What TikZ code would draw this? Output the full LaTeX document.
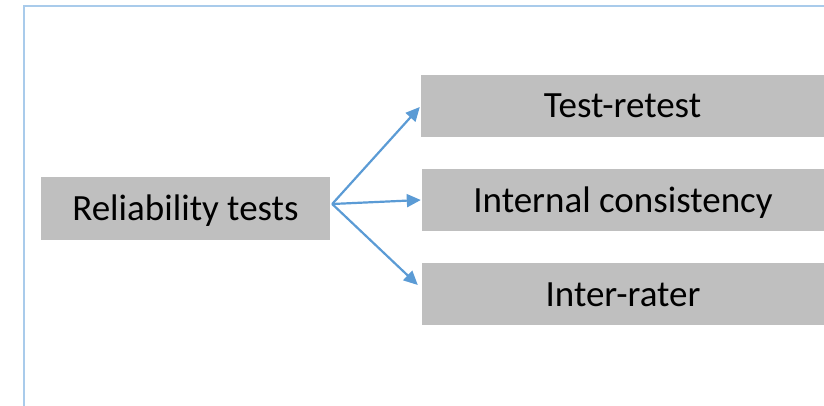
\documentclass[tikz,border=0pt]{standalone}
\usepackage{fontspec}
\setmainfont{Carlito}
\usetikzlibrary{arrows.meta,calc}
\definecolor{boxgray}{HTML}{BFBFBF}
\definecolor{arrowblue}{HTML}{5B9BD5}
\definecolor{frameblue}{HTML}{A9CBEB}
\begin{document}
\begin{tikzpicture}[x=1pt, y=-1pt,
    testbox/.style={fill=boxgray, inner sep=0pt, minimum height=62pt,
      text height=30pt, text depth=6pt,
      font=\fontsize{37}{44}\selectfont},
    branch/.style={draw=arrowblue, line width=2.2pt,
      -{Triangle[length=14pt,width=13pt]}}]
  \useasboundingbox (0,0) rectangle (824,406);
  % Frame
  \draw[frameblue, line width=1.5pt] (24,406) -- (24,6) -- (824,6);
  % Root box
  \node[testbox, minimum width=289pt, minimum height=63pt] (rel) at (185.5,208.5) {Reliability tests};
  % Branch boxes
  \node[testbox, minimum width=403pt] (tr) at (622.5,106) {Test-retest};
  \node[testbox, minimum width=402pt] (ic) at (623,200) {Internal consistency};
  \node[testbox, minimum width=402pt] (ir) at (623,294) {Inter-rater};
  % Arrows
  \coordinate (fork) at ($(rel.east)+(2,-4.5)$);
  \draw[branch] (fork) -- ($(tr.west)+(-1,1)$);
  \draw[branch] (fork) -- ($(ic.west)+(-1,0)$);
  \draw[branch] (fork) -- ($(ir.west)+(-4,-9)$);
\end{tikzpicture}
\end{document}
